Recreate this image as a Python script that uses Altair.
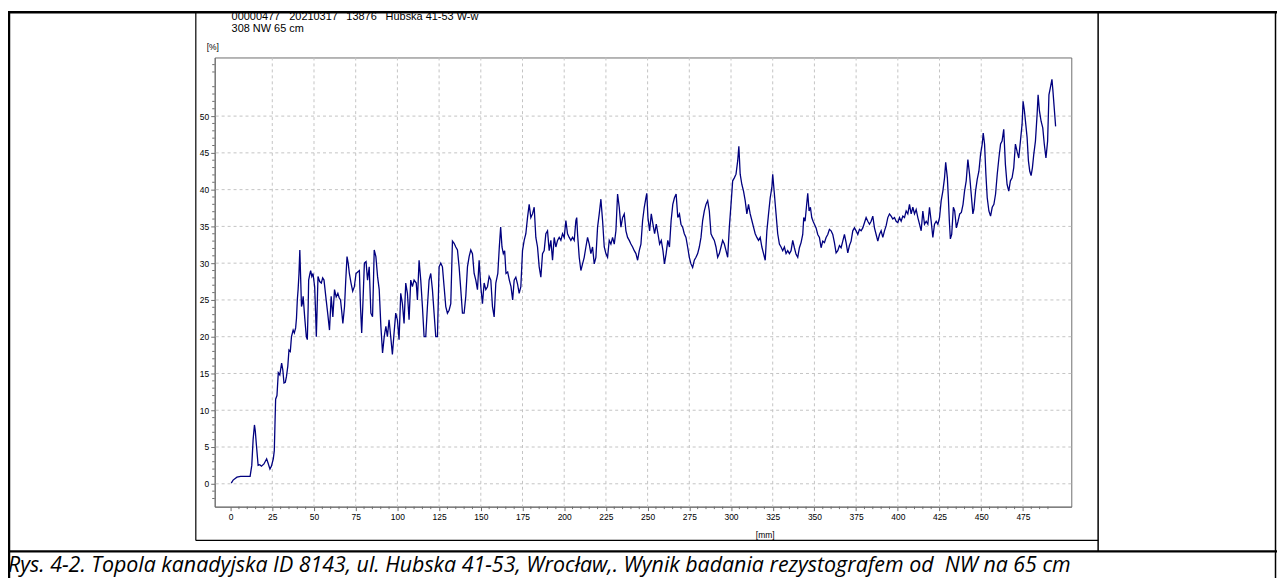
import altair as alt
import pandas as pd

# ---------------- data ----------------
depth_mm = [
    0.4, 1.5, 3.8, 6, 8, 10, 11.7, 12.7, 13.5, 14.3, 14.8, 15.5, 16.5, 17.5, 18.5, 20, 21.6, 22.5, 23.6, 24.5,
    25.6, 26.2, 27, 27.8, 28.6, 29.5, 30.6, 31.3, 32, 32.8, 33.5, 34.3, 35, 35.8, 36.5, 37.5, 38.2, 39, 39.5, 40,
    40.5, 41, 41.5, 42, 42.5, 43, 43.5, 44.4, 45.4, 46, 46.5, 46.8, 47.5, 48, 48.7, 49.4, 50.4, 51, 51.4, 51.9,
    52.4, 53.4, 54.4, 55.2, 56, 57.3, 58.3, 59.3, 60.3, 61.3, 62.3, 63.3, 64.3, 65.1, 65.9, 66.6, 67.3, 68.3, 69, 69.8,
    70.5, 71.2, 72.2, 73.2, 74.2, 75.2, 76.2, 77.2, 77.9, 78.6, 79.4, 80.2, 81.2, 82.1, 83.1, 84.1, 85.1, 85.6, 86.1, 87.1,
    88.1, 89.1, 90.1, 91.1, 92.1, 93.1, 94, 95, 96, 97, 98, 99, 100, 101, 102, 103, 104, 105, 106, 107,
    108, 109, 110, 111.3, 112, 113, 114, 115, 116, 117, 118, 119, 120, 121, 122, 123, 124, 125, 126, 127,
    128, 129, 130, 131, 132, 133, 134, 135, 136, 137, 138, 139, 140, 141, 142, 143, 144, 145, 146, 147,
    148, 149, 150, 151, 152, 153, 154, 155, 156, 157, 158, 159, 160.2, 161.1, 161.9, 162.7, 163.5, 164.3, 165.1, 166.1,
    167.1, 168.1, 169.1, 170, 171, 172, 173, 174, 175, 176, 177, 178, 179, 180, 181, 182, 183, 184, 185, 186,
    187, 188, 189, 190, 191, 192, 193, 194, 195, 196, 197, 198, 199, 200, 201, 202, 203, 204, 205, 206,
    207, 207.5, 208, 209, 210, 211, 212, 213, 214, 215, 216, 217, 218, 219, 220, 221, 222, 223, 224, 225,
    226, 227, 228, 229, 230, 231, 232, 233, 234, 235, 236, 237, 238, 239, 240, 241, 242, 243, 244, 245,
    246, 247, 248, 249, 249.5, 250.2, 251.2, 252.2, 253.2, 254.2, 255.2, 256.2, 257.2, 258.2, 259.2, 260.1, 261.1, 262.1, 263.1, 264.1,
    265.1, 266.1, 267.1, 268.1, 269.1, 270, 271, 272, 273, 274, 275, 276, 277, 278, 279, 280, 281, 282, 283, 284,
    285, 286, 287, 288, 289, 290, 291, 292, 293, 294, 295, 296, 297, 298, 299, 300, 301, 302, 303, 304,
    304.7, 305.5, 306.5, 307.5, 308.5, 309.5, 310.5, 311.5, 312.5, 313.5, 314.5, 315.5, 316.5, 317.5, 318.5, 319.5, 320.5, 321.5, 322.5, 323.5,
    324.5, 325, 326, 327, 328, 329, 330, 331, 332, 333, 334, 335, 336, 337, 338, 339, 340, 341, 342, 343,
    343.6, 344.4, 345.2, 346, 346.8, 347.6, 348.4, 349.2, 350, 351, 352, 353, 354, 355, 356, 357, 358, 359, 360, 361,
    362, 363, 364, 365, 366, 367, 368, 369, 370, 371, 372, 373, 374, 375, 376, 377, 378, 379, 380, 381,
    382, 383, 384, 385, 386, 387, 388, 389, 390, 391, 392, 393, 394, 395, 396, 397, 398, 399, 400, 401,
    402, 403, 404, 405, 406, 407, 408, 409, 410, 411, 412, 413, 414, 415, 416, 417, 418, 419, 420, 421,
    422, 423, 424, 425, 426, 427, 428, 428.7, 429.7, 430.3, 430.9, 431.5, 432.3, 433.3, 434.1, 435.1, 436.1, 437.1, 438.1, 439.1,
    440, 441, 442, 443, 444, 445, 445.6, 446.6, 447.6, 448.6, 449.6, 450.6, 451.2, 452, 452.8, 453.6, 454.6, 455.6, 456.6, 457.6,
    458.6, 459.6, 460.6, 461.6, 462.5, 463.5, 464.5, 465.5, 466.5, 467.5, 468.5, 469.5, 470.5, 471.5, 472.5, 473.5, 474.5, 475.1, 475.9, 476.7,
    477.5, 478.3, 479.1, 479.9, 480.7, 481.5, 482.5, 483.5, 484.1, 484.9, 485.9, 486.9, 487.8, 488.8, 489.8, 490.6, 491.4, 492.4, 493, 493.6,
    494.2, 494.6,
]

resistance_pct = [
    0.1, 0.5, 0.9, 1.0, 1.0, 1.0, 1.0, 2.5, 6.0, 8.0, 7.2, 5.2, 2.5, 2.6, 2.4, 2.7, 3.4, 2.8, 2.0, 2.4,
    3.4, 4.5, 11.5, 12.0, 15.1, 14.8, 16.4, 15.5, 13.7, 13.8, 14.6, 16.0, 18.2, 18.0, 20.0, 20.9, 20.5, 21.2, 22.5, 25.0,
    26.5, 28.6, 31.8, 28.0, 24.1, 24.5, 25.5, 22.7, 20.0, 19.6, 24.0, 27.7, 28.5, 29.0, 28.2, 28.6, 26.8, 23.0, 20.0, 24.0,
    28.2, 27.5, 27.3, 28.0, 27.7, 25.0, 23.0, 20.9, 25.5, 22.7, 26.4, 25.4, 25.9, 25.3, 25.0, 23.5, 21.8, 24.1, 27.5, 30.9,
    30.0, 28.6, 27.3, 26.2, 26.8, 28.6, 28.8, 29.0, 24.0, 20.5, 25.0, 30.0, 30.2, 27.7, 29.5, 23.2, 22.7, 27.0, 31.8, 30.9,
    28.2, 26.4, 21.4, 17.8, 20.0, 21.4, 20.0, 22.3, 20.0, 17.6, 20.5, 23.2, 22.3, 19.6, 25.9, 24.5, 21.8, 27.3, 25.9, 22.3,
    27.7, 26.8, 27.7, 27.3, 25.0, 30.4, 27.7, 24.1, 20.0, 20.0, 24.1, 27.7, 28.6, 26.4, 23.2, 20.0, 20.0, 29.5, 30.0, 29.5,
    26.8, 24.1, 23.2, 23.6, 24.5, 33.0, 32.7, 32.2, 31.8, 29.5, 26.4, 23.2, 23.2, 25.5, 29.5, 30.9, 31.8, 31.3, 28.6, 27.7,
    26.4, 30.4, 26.8, 24.5, 27.3, 26.4, 26.8, 28.2, 27.7, 24.1, 22.7, 27.3, 28.6, 32.2, 34.9, 32.2, 31.3, 31.7, 28.6, 28.8,
    27.7, 26.8, 25.0, 27.7, 28.1, 27.2, 25.9, 26.8, 31.7, 33.1, 34.0, 36.2, 38.0, 36.2, 36.7, 37.6, 33.5, 32.2, 29.5, 28.1,
    31.3, 31.7, 34.0, 34.4, 31.7, 33.1, 30.4, 33.5, 32.2, 33.1, 33.5, 33.1, 34.0, 33.5, 35.8, 34.0, 33.5, 33.1, 33.5, 33.1,
    35.8, 36.2, 34.0, 30.8, 29.0, 29.9, 30.8, 32.2, 33.5, 32.6, 31.3, 32.2, 29.9, 30.8, 34.9, 36.7, 38.7, 35.8, 32.2, 31.3,
    30.8, 33.1, 32.6, 33.5, 32.6, 34.4, 39.4, 37.6, 34.9, 36.2, 36.7, 34.4, 33.5, 33.1, 32.6, 32.2, 31.7, 31.3, 30.4, 31.7,
    32.6, 35.8, 37.6, 38.9, 39.5, 36.2, 34.4, 36.7, 35.3, 34.0, 35.3, 34.0, 32.6, 33.1, 31.7, 29.9, 31.3, 33.1, 32.2, 35.8,
    38.0, 38.9, 39.4, 36.2, 36.7, 35.3, 34.9, 34.0, 33.5, 32.2, 30.8, 29.9, 29.4, 30.4, 30.8, 31.3, 32.2, 33.5, 35.8, 37.1,
    38.0, 38.5, 37.1, 34.0, 33.5, 33.1, 32.2, 30.8, 31.3, 32.2, 33.1, 32.6, 31.7, 30.8, 34.9, 38.0, 41.2, 41.6, 42.1, 43.9,
    45.9, 42.1, 40.7, 39.8, 38.5, 36.7, 38.0, 36.7, 35.8, 34.9, 34.0, 33.5, 33.1, 33.5, 32.2, 31.3, 30.4, 34.4, 36.7, 38.9,
    40.3, 42.1, 39.4, 36.7, 34.0, 32.6, 32.2, 31.7, 32.2, 31.3, 31.7, 31.3, 31.7, 33.1, 32.1, 31.2, 30.8, 32.1, 32.8, 33.9,
    36.2, 35.7, 37.6, 39.5, 37.1, 37.6, 36.2, 35.7, 35.3, 34.8, 33.9, 33.5, 32.1, 33.0, 32.8, 33.5, 33.9, 34.6, 34.4, 33.9,
    32.8, 31.4, 31.7, 32.4, 32.1, 33.0, 33.9, 32.8, 31.4, 32.4, 33.0, 34.4, 34.8, 34.4, 33.9, 34.6, 34.4, 34.8, 35.5, 36.2,
    35.7, 35.3, 35.7, 36.4, 34.8, 33.9, 33.0, 33.9, 34.4, 33.5, 34.4, 35.1, 36.2, 36.7, 36.4, 36.0, 36.2, 35.7, 35.5, 36.2,
    35.7, 36.4, 36.2, 37.1, 36.7, 38.0, 36.7, 37.6, 36.7, 37.3, 36.2, 35.3, 34.4, 37.1, 35.3, 35.7, 35.3, 37.6, 35.7, 33.5,
    35.3, 35.7, 35.3, 36.2, 38.5, 39.8, 41.6, 43.7, 41.6, 38.9, 35.7, 33.3, 33.9, 37.6, 37.1, 34.8, 35.7, 36.7, 36.9, 38.0,
    39.8, 41.2, 44.1, 42.1, 39.4, 36.7, 37.3, 39.8, 41.4, 42.5, 44.8, 46.2, 47.7, 46.2, 42.1, 38.9, 37.1, 36.4, 37.6, 38.0,
    39.4, 42.1, 44.3, 46.2, 46.6, 48.2, 43.4, 40.7, 39.8, 41.2, 41.6, 43.0, 46.2, 45.2, 44.3, 46.6, 48.9, 52.0, 50.7, 48.9,
    47.1, 43.9, 42.5, 41.9, 43.0, 44.8, 46.6, 50.2, 52.9, 50.7, 49.3, 48.4, 46.2, 44.3, 46.6, 52.9, 53.8, 55.0, 53.4, 51.6,
    49.8, 48.6,
]

x_label_ticks = list(range(0, 476, 25))
x_grid_ticks = list(range(25, 476, 25))
x_minor_ticks = [v for v in range(0, 491, 5) if v % 25]
y_label_ticks = list(range(0, 51, 5))
y_minor_ticks = [v for v in range(-2, 58) if v % 5]

header_fields = ["00000477", "20210317", "13876", "Hubska 41-53 W-w"]
header_line2 = "308 NW 65 cm"
y_unit = "[%]"
x_unit = "[mm]"
caption = "Rys. 4-2. Topola kanadyjska ID 8143, ul. Hubska 41-53, Wrocław,. Wynik badania rezystografem od\u00a0 NW na 65 cm"

# ---------------- chart ----------------
W, H = 862, 452
XDOM = [-9.53, 504.0]
YDOM = [-3.11, 57.97]
AX = "#6e6e6e"
FONT = "Liberation Sans"

trace = pd.DataFrame({"mm": depth_mm, "pct": resistance_pct})
xs = alt.Scale(domain=XDOM, nice=False, zero=False)
ys = alt.Scale(domain=YDOM, nice=False, zero=False)
one = pd.DataFrame({"k": [0]})

line = alt.Chart(trace).mark_line(color="#00007f", strokeWidth=1.3, interpolate="linear").encode(
    x=alt.X("mm:Q", scale=xs, axis=alt.Axis(values=x_label_ticks, grid=False, title=None, tickSize=4,
                                            tickColor=AX, domainColor=AX, labelFont=FONT, labelFontSize=8.5,
                                            labelColor="#000", labelPadding=2, labelFlush=False)),
    y=alt.Y("pct:Q", scale=ys, axis=alt.Axis(values=y_label_ticks, grid=False, title=None, tickSize=4,
                                             tickColor=AX, domainColor=AX, labelFont=FONT, labelFontSize=8.5,
                                             labelColor="#000", labelPadding=2, labelFlush=False)),
)

xgrid = alt.Chart(pd.DataFrame({"g": x_grid_ticks})).mark_rule(color="#c4c4c4", strokeDash=[3, 3], strokeWidth=1).encode(
    x=alt.X("g:Q", scale=xs))
ygrid = alt.Chart(pd.DataFrame({"g": y_label_ticks})).mark_rule(color="#c4c4c4", strokeDash=[3, 3], strokeWidth=1).encode(
    y=alt.Y("g:Q", scale=ys))

xminor = alt.Chart(pd.DataFrame({"t": x_minor_ticks})).mark_rule(color=AX, strokeWidth=1).encode(
    x=alt.X("t:Q", scale=xs), y=alt.value(H), y2=alt.value(H + 2.5))
yminor = alt.Chart(pd.DataFrame({"t": y_minor_ticks})).mark_rule(color=AX, strokeWidth=1).encode(
    y=alt.Y("t:Q", scale=ys), x=alt.value(-2.5), x2=alt.value(0))

# page decorations (pixel positions relative to the plot origin at 216,56)
def hrule(x1, x2, y, w, c="#000"):
    return alt.Chart(one).mark_rule(color=c, strokeWidth=w).encode(x=alt.value(x1), x2=alt.value(x2), y=alt.value(y))

def vrule(x, y1, y2, w, c="#000"):
    return alt.Chart(one).mark_rule(color=c, strokeWidth=w).encode(x=alt.value(x), y=alt.value(y1), y2=alt.value(y2))

frame = [
    hrule(-210, 1070, -45.5, 2.5),        # table top
    vrule(-207, -46, 525, 2.5),           # table left
    vrule(1067.5, -46, 525, 1.5),         # table right
    vrule(-19, -46, 486, 1.2),            # image left
    vrule(889, -46, 497, 1.5),            # image right
    hrule(-19, 889, 486, 1.2),            # image bottom
    hrule(-210, 1070, 497, 2.5),          # caption separator
]

def label(txt, x, y, size, align="left", font=FONT, style="normal", base="middle"):
    return alt.Chart(one).mark_text(text=txt, align=align, baseline=base, font=font, fontSize=size,
                                    fontStyle=style, color="#000").encode(x=alt.value(x), y=alt.value(y))

header_x = [17, 75, 132.5, 172]
texts = [label(t, hx, -40.5, 11) for t, hx in zip(header_fields, header_x)] + [
    label(header_line2, 17, -29, 11),
    label(y_unit, -8, -11, 8.5),
    label(x_unit, 554, 481, 8.5, align="center"),
    label(caption, -208, 518, 21.5, font="Open Sans", style="italic", base="alphabetic"),
]

chart = alt.layer(xgrid, ygrid, xminor, yminor, line, *frame, *texts).properties(
    width=W, height=H,
    autosize=alt.AutoSizeParams(type="none"),
    padding={"left": 208, "top": 48, "right": 207, "bottom": 70},
).configure_view(stroke=AX, strokeWidth=1)

chart.save("out.html", embed_options={"renderer": "svg", "actions": False})
